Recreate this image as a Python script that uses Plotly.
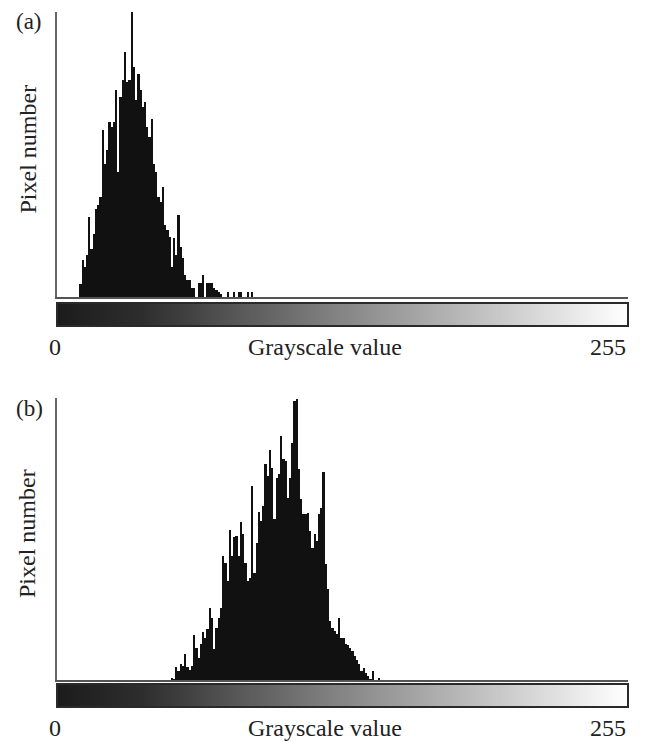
import plotly.graph_objects as go

# ---------------- data ----------------
# Panel (a): pixel counts per grayscale bin, starting at bin 10
hist_a_start = 10
hist_a_values = [
    13, 37, 30, 42, 80, 48, 63, 88, 92, 100,        # 10-19
    167, 133, 147, 175, 170, 175, 207, 125, 200, 217,  # 20-29
    245, 215, 217, 285, 230, 197, 223, 207, 190, 195,  # 30-39
    170, 160, 178, 133, 125, 100, 95, 110, 72, 67,     # 40-49
    60, 30, 59, 42, 82, 50, 39, 22, 17, 17,            # 50-59
    9, 9, 0, 14, 14, 22, 0, 14, 14, 14,                # 60-69
    9, 7, 5, 3, 0, 0, 5, 0, 0, 5,                      # 70-79
    0, 5, 5, 0, 0, 5, 0, 5                             # 80-87
]

# Panel (b): pixel counts per grayscale bin, starting at bin 51
hist_b_start = 51
hist_b_values = [
    2, 1, 13, 9, 16, 14, 26, 13, 10, 14,
    45, 32, 22, 36, 48, 42, 51, 72, 62, 31,
    52, 62, 72, 124, 117, 99, 150, 124, 143, 144,
    124, 158, 146, 117, 99, 102, 194, 107, 137, 168,
    159, 174, 216, 204, 230, 212, 161, 202, 206, 244,
    221, 219, 182, 202, 237, 279, 281, 211, 181, 166,
    166, 167, 149, 132, 146, 139, 166, 172, 208, 116,
    91, 59, 52, 49, 46, 62, 42, 42, 36, 35,
    32, 29, 24, 20, 16, 9, 12, 7, 4, 1,
    9, 0, 0, 2
]

gray_levels = list(range(256))
panel_labels = ["(a)", "(b)"]
x_title = "Grayscale value"
y_title = "Pixel number"
x_tick_labels = ["0", "255"]

# ---------------- figure ----------------
W, H = 651, 742
FONT = "Times New Roman, Liberation Serif, serif"
TXT = "#222222"

def py(p):  # pixel y -> paper y
    return 1 - p / H

def px(p):
    return p / W

x_dom = [px(57), px(628)]

fig = go.Figure()

panels = [
    dict(start=hist_a_start, vals=hist_a_values, top=12, base=297, gtop=303, gbot=326, ymax=285),
    dict(start=hist_b_start, vals=hist_b_values, top=398, base=680, gtop=684, gbot=707, ymax=282),
]

gray_scale = [[0.0, "#1c1c1c"], [0.15, "#2e2e2e"], [0.5, "#858585"], [1.0, "#ffffff"]]

for i, p in enumerate(panels):
    hx = f"x{2*i+1}"
    hy = f"y{2*i+1}"
    gx = f"x{2*i+2}"
    gy = f"y{2*i+2}"
    xs = [p["start"] + k for k in range(len(p["vals"]))]
    fig.add_trace(go.Bar(x=xs, y=p["vals"], xaxis=hx, yaxis=hy,
                         marker=dict(color="#111111", line=dict(width=0)),
                         width=1.0, showlegend=False, hoverinfo="skip"))
    fig.add_trace(go.Heatmap(z=[gray_levels], x=gray_levels, y=[0],
                             xaxis=gx, yaxis=gy, colorscale=gray_scale,
                             showscale=False, zmin=0, zmax=255, hoverinfo="skip"))

    n1 = "" if i == 0 else str(2*i+1)
    n2 = str(2*i+2)
    fig.update_layout(**{
        f"xaxis{n1}": dict(domain=x_dom, range=[-0.5, 255.5], showgrid=False, zeroline=False,
                           showticklabels=False, ticks="", showline=True, linecolor="#555555",
                           linewidth=2, anchor=hy, fixedrange=True),
        f"yaxis{n1}": dict(domain=[py(p["base"]), py(p["top"])], range=[0, p["ymax"]],
                           showgrid=False, zeroline=False, showticklabels=False, ticks="",
                           showline=True, linecolor="#666666", linewidth=2, anchor=hx,
                           fixedrange=True),
        f"xaxis{n2}": dict(domain=x_dom, range=[-0.5, 255.5], visible=False, anchor=gy),
        f"yaxis{n2}": dict(domain=[py(p["gbot"]), py(p["gtop"])], range=[-0.5, 0.5],
                           visible=False, anchor=gx),
    })
    fig.add_shape(type="rect", xref=f"{gx} domain", yref=f"{gy} domain",
                  x0=0, x1=1, y0=0, y1=1, line=dict(color="#2a2a2a", width=2))

    lab_y = py(p["gbot"] + 21)
    fig.add_annotation(text=x_tick_labels[0], x=px(55), y=lab_y, xref="paper", yref="paper",
                       showarrow=False, xanchor="center", yanchor="middle",
                       font=dict(family=FONT, size=24, color=TXT))
    fig.add_annotation(text=x_tick_labels[1], x=px(628), y=lab_y, xref="paper", yref="paper",
                       showarrow=False, xanchor="right", yanchor="middle",
                       font=dict(family=FONT, size=24, color=TXT))
    fig.add_annotation(text=x_title, x=px(325), y=lab_y, xref="paper", yref="paper",
                       showarrow=False, xanchor="center", yanchor="middle",
                       font=dict(family=FONT, size=24, color=TXT))
    fig.add_annotation(text=y_title, x=px(27), y=py((p["top"] + p["base"]) / 2 - 5),
                       xref="paper", yref="paper", showarrow=False, textangle=-90,
                       xanchor="center", yanchor="middle",
                       font=dict(family=FONT, size=24, color=TXT))
    fig.add_annotation(text=panel_labels[i], x=px(14), y=py(p["top"] + 10), xref="paper",
                       yref="paper", showarrow=False, xanchor="left", yanchor="middle",
                       font=dict(family=FONT, size=23, color=TXT))

fig.update_layout(width=W, height=H, margin=dict(l=0, r=0, t=0, b=0),
                  paper_bgcolor="white", plot_bgcolor="white", bargap=0)

fig.write_html("out.html")
